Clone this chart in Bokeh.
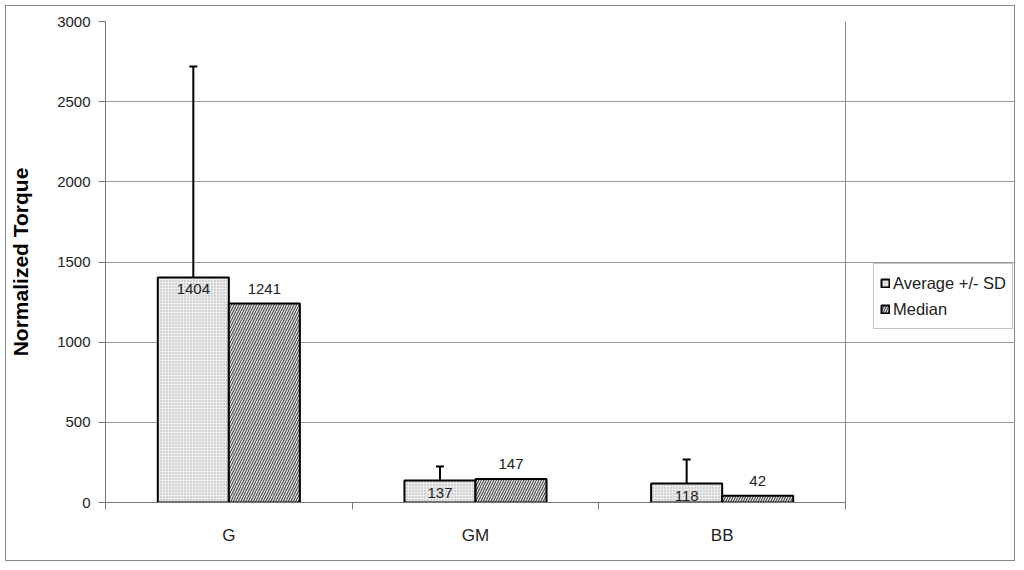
import numpy as np
from bokeh.plotting import figure
from bokeh.models import (ColumnDataSource, FixedTicker, Legend, LegendItem, Whisker, Range1d, Span)
from bokeh.core.properties import value
from bokeh.embed import file_html
from bokeh.resources import INLINE

categories = ["G", "GM", "BB"]
average = [1404, 137, 118]
median = [1241, 147, 42]
sd = [1316, 88, 150]
y_ticks = [0, 500, 1000, 1500, 2000, 2500, 3000]

FONT = "Liberation Sans"
n = len(categories)
idx = np.arange(n) + 0.5
bw = 0.288
x_end = n * 911 / 740  # extra room on the right of the frame for the legend

src = ColumnDataSource(dict(
    x_avg=idx - bw / 2, x_med=idx + bw / 2,
    avg=average, med=median,
    upper=[a + s for a, s in zip(average, sd)],
    avg_lbl=[str(v) for v in average], med_lbl=[str(v) for v in median],
))

p = figure(width=1010, height=556, output_backend="svg", toolbar_location=None,
           x_range=Range1d(0, x_end), y_range=Range1d(0, 3000),
           min_border_left=99, min_border_right=0, min_border_top=15, min_border_bottom=60)
p.margin = (5, 5, 5, 5)
p.styles = {"border": "1px solid #888888"}
p.outline_line_color = None
p.background_fill_color = "white"

r_avg = p.vbar(x="x_avg", top="avg", width=bw, source=src, fill_color="#ececec",
               line_color="black", line_width=2,
               hatch_pattern="dot", hatch_color="#aaaaaa", hatch_scale=3, hatch_weight=1)
r_med = p.vbar(x="x_med", top="med", width=bw, source=src, fill_color="#dddddd",
               line_color="black", line_width=2,
               hatch_pattern="right_diagonal_line", hatch_color="#333333", hatch_scale=5, hatch_weight=1)

w = Whisker(source=src, base="x_avg", upper="upper", lower="avg", dimension="height",
            line_color="black", line_width=2, lower_head=None)
w.upper_head.size = 8
w.upper_head.line_width = 2
p.add_layout(w)

p.text(x="x_avg", y="avg", text="avg_lbl", source=src, text_align="center", text_baseline="middle",
       y_offset=12, text_font=value(FONT), text_font_size="15px", text_color="#222222")
p.text(x="x_med", y="med", text="med_lbl", source=src, text_align="center", text_baseline="middle",
       y_offset=-15, text_font=value(FONT), text_font_size="15px", text_color="#222222")

# right edge of the plot area
p.add_layout(Span(location=n, dimension="height", line_color="#888888", line_width=1))

p.xaxis.bounds = (0, n)
p.xaxis.ticker = FixedTicker(ticks=list(idx), minor_ticks=list(range(n + 1)))
p.xaxis.major_label_overrides = {float(v): c for v, c in zip(idx, categories)}
p.xaxis.major_tick_out = 0
p.xaxis.major_tick_in = 0
p.xaxis.minor_tick_out = 7
p.xaxis.minor_tick_in = 0
p.xaxis.major_label_standoff = 16
p.xaxis.major_label_text_font = FONT
p.xaxis.major_label_text_font_size = "17px"
p.xaxis.major_label_text_color = "#222222"
p.xaxis.axis_line_color = "#777777"
p.xaxis.minor_tick_line_color = "#777777"

p.yaxis.ticker = FixedTicker(ticks=y_ticks, minor_ticks=[])
p.yaxis.major_tick_out = 7
p.yaxis.major_tick_in = 0
p.yaxis.major_label_standoff = 8
p.yaxis.major_label_text_font = FONT
p.yaxis.major_label_text_font_size = "15px"
p.yaxis.major_label_text_color = "#222222"
p.yaxis.axis_line_color = "#777777"
p.yaxis.major_tick_line_color = "#777777"
p.yaxis.axis_label = "Normalized Torque"
p.yaxis.axis_label_text_font = FONT
p.yaxis.axis_label_text_font_size = "21px"
p.yaxis.axis_label_text_font_style = "bold"
p.yaxis.axis_label_text_color = "black"
p.yaxis.axis_label_standoff = 22

p.xgrid.grid_line_color = None
p.ygrid.grid_line_color = "#999999"
p.ygrid.grid_line_width = 1
p.ygrid.bounds = (0, n)

legend = Legend(items=[LegendItem(label="Average +/- SD", renderers=[r_avg]),
                       LegendItem(label="Median", renderers=[r_med])],
                location=(768, 173), orientation="vertical")
legend.glyph_width = 10
legend.glyph_height = 10
legend.label_text_font = FONT
legend.label_text_font_size = "16.5px"
legend.label_text_color = "#222222"
legend.label_standoff = 3
legend.label_height = 26
legend.spacing = 0
legend.padding = 6
legend.margin = 0
legend.border_line_color = "#888888"
legend.border_line_width = 1
legend.background_fill_alpha = 1
p.add_layout(legend, "center")

open("out.html", "w").write(file_html(p, INLINE))
